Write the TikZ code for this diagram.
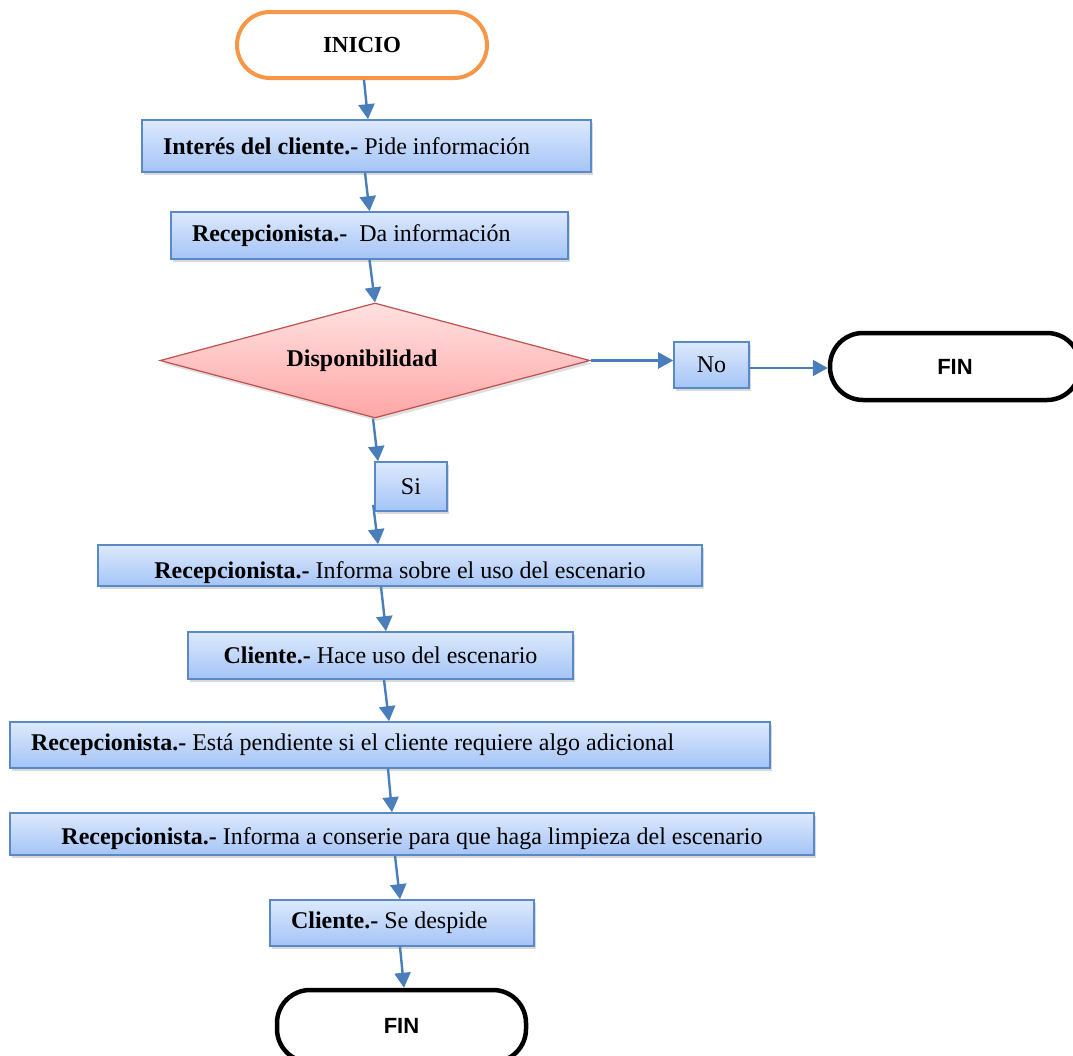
\documentclass[tikz,border=0pt]{standalone}
\usepackage{fontspec}
\setmainfont{Liberation Serif}
\newfontfamily\finfont{Liberation Sans}
\usetikzlibrary{arrows.meta, shapes.geometric, shadows}
\definecolor{boxtop}{HTML}{DDE9FC}
\definecolor{boxbot}{HTML}{A4C4F6}
\definecolor{boxedge}{HTML}{5A89C8}
\definecolor{diatop}{HTML}{FFE1E1}
\definecolor{diabot}{HTML}{FFA6A6}
\definecolor{diaedge}{HTML}{C0504D}
\definecolor{flow}{HTML}{4A7EBB}
\definecolor{startedge}{HTML}{F79646}
\newcommand{\rol}[1]{\textbf{#1}}
\tikzset{
  txt/.style={font=\fontsize{24}{28}\selectfont},
  paso/.style={txt, draw=boxedge, line width=1.6pt, top color=boxtop, bottom color=boxbot, inner sep=0pt,
    drop shadow={shadow xshift=2pt, shadow yshift=-3pt, opacity=0.3}},
  pasol/.style={paso, align=flush left, inner xsep=21pt},
  pasoc/.style={paso, align=center},
  term/.style={draw=black, line width=4.5pt, fill=white, rounded corners=33pt, inner sep=0pt},
  dec/.style={txt, diamond, aspect=3.74, inner sep=0pt, draw=diaedge, line width=1.2pt, top color=diatop, bottom color=diabot,
    drop shadow={shadow xshift=2pt, shadow yshift=-3pt, opacity=0.25}},
  a/.style={-{Triangle[length=15pt, width=16pt]}, draw=flow, line width=2.4pt},
}

\begin{document}
\begin{tikzpicture}[x=1pt, y=-1pt]
\useasboundingbox (0,0) rectangle (1073,1055);

% ---- start and first steps ----
\node[term, draw=startedge, line width=4pt, minimum width=250pt, minimum height=66pt, font=\bfseries\fontsize{23}{27}\selectfont] (inicio) at (362,45) {INICIO};
\node[pasol, text width=407pt, minimum height=52pt] (interes) at (366.5,146) {\rol{Interés del cliente.-} Pide información};
\node[pasol, text width=355pt, minimum height=47pt] (daInfo) at (369.5,235.5) {\rol{Recepcionista.-}\ \ Da información};

% ---- decision ----
\node[dec, minimum width=430pt, minimum height=115pt] (disp) at (375,360.5) {\textbf{Disponibilidad}\hspace*{26pt}};
\node[pasoc, minimum width=75pt, minimum height=46pt] (no) at (711.5,365) {No};
\node[term, minimum width=250pt, minimum height=67pt, font=\finfont\bfseries\fontsize{22}{26}\selectfont] (finNo) at (955,366.5) {FIN};
\node[pasoc, minimum width=72pt, minimum height=49pt] (si) at (411,486.5) {Si};

% ---- use of the venue ----
\node[pasoc, minimum width=604pt, minimum height=41pt, text height=33pt, text depth=8pt] (uso) at (400,565.5) {\rol{Recepcionista.-} Informa sobre el uso del escenario};
\node[pasoc, minimum width=385pt, minimum height=47pt] (hace) at (380.5,655.5) {\rol{Cliente.-} Hace uso del escenario};
\node[pasol, text width=718pt, minimum height=46pt] (pend) at (390,745) {\rol{Recepcionista.-} Está pendiente si el cliente requiere algo adicional};
\node[pasoc, minimum width=804pt, minimum height=42pt, text height=31pt, text depth=11pt] (limp) at (412,834) {\rol{Recepcionista.-} Informa a conserie para que haga limpieza del escenario};
\node[pasol, text width=222pt, minimum height=46pt] (desp) at (402,923) {\rol{Cliente.-} Se despide};
\node[term, minimum width=249pt, minimum height=72pt, font=\finfont\bfseries\fontsize{22}{26}\selectfont] (fin) at (401.5,1026) {FIN};

% ---- edges ----
\draw[a] ([xshift=2pt]inicio.south) -- ([xshift=1.5pt]interes.north);
\draw[a] ([xshift=-1.5pt]interes.south) -- (daInfo.north);
\draw[a] (daInfo.south) -- (disp.north);
\draw[a] ([xshift=-2pt]disp.south) -- ([xshift=-33pt]si.north);
\draw[a] ([xshift=-1pt, yshift=7pt]si.south west) -- ([xshift=-22pt]uso.north);
\draw[a] ([xshift=-19pt]uso.south) -- ([xshift=5.5pt]hace.north);
\draw[a] ([xshift=3.5pt]hace.south) -- ([xshift=-1pt]pend.north);
\draw[a] ([xshift=-2pt]pend.south) -- ([xshift=-20pt]limp.north);
\draw[a] ([xshift=-17pt]limp.south) -- ([xshift=-2pt]desp.north);
\draw[a] ([xshift=-2pt]desp.south) -- ([xshift=2.5pt]fin.north);

\draw[a] (disp.east) -- (disp.east -| no.west);
\draw[a] ([yshift=-3pt]no.east) -- ([yshift=-3pt]no.east -| finNo.west);
\end{tikzpicture}
\end{document}
